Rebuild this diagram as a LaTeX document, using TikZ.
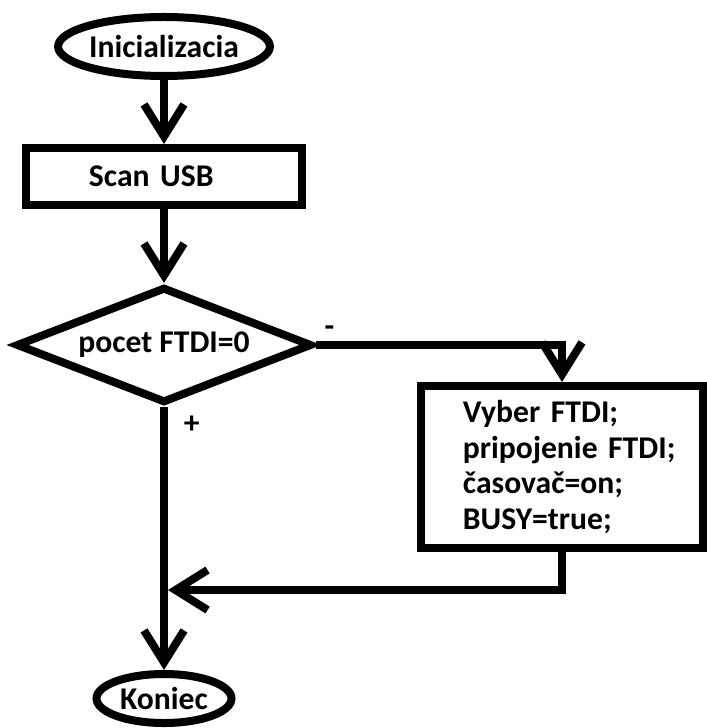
\documentclass[tikz,border=0pt]{standalone}
\usepackage{fontspec}
\setmainfont{Carlito}
\usetikzlibrary{shapes.geometric,arrows.meta}

\tikzset{
	terminal/.style={draw, ellipse, inner sep=0pt},
	process/.style={draw, rectangle, inner sep=0pt, minimum width=#1, text width=#1, align=left},
	decision/.style={draw, diamond, aspect=2.55, inner sep=0pt},
	inset/.style={execute at begin node={\leftskip=#1}},
	flow/.style={-{Straight Barb[length=0.8cm,width=1.0cm]}}
}

\begin{document}
\begin{tikzpicture}[x=0.025cm, y=-0.025cm, line width=0.2cm,
	font=\bfseries\fontsize{22.5}{25.3}\selectfont]

	%one unit is one pixel of the sketch, y runs downwards
	\useasboundingbox (0,0) rectangle (707,728);

	\def\midx{164}

	%main column
	\node [terminal, minimum width=5.22cm, minimum height=1.475cm] (init) at (\midx, 46.5) {Inicializacia};
	\node [process=6.9cm, inset=1.575cm, minimum height=1.425cm] (scan) at (\midx, 176.5) {Scan USB};
	\node [decision, minimum width=7.4cm, minimum height=2.9cm] (cond) at (\midx, 345) {pocet FTDI=0};
	\node [terminal, minimum width=3.375cm, minimum height=1.225cm] (end) at (\midx, 698.5) {Koniec};

	%branch on the right
	\node [process=7.05cm, inset=1.05cm, minimum height=4.05cm] (work) at (562, 467)
		{Vyber FTDI;\\pripojenie FTDI;\\časovač=on;\\BUSY=true;};

	\coordinate (merge) at (\midx + 4, 590);

	%connectors
	\draw [flow] (init.south) -- (scan.north);
	\draw [flow] (scan.south) -- (cond.north);
	\draw [flow] (cond.east) node [above right] {-} -| (work.north);
	\draw [flow] (cond.south) node [below right, xshift=8] {+} -- (end.north);
	\draw [flow] (work.south) |- (merge);

\end{tikzpicture}
\end{document}
